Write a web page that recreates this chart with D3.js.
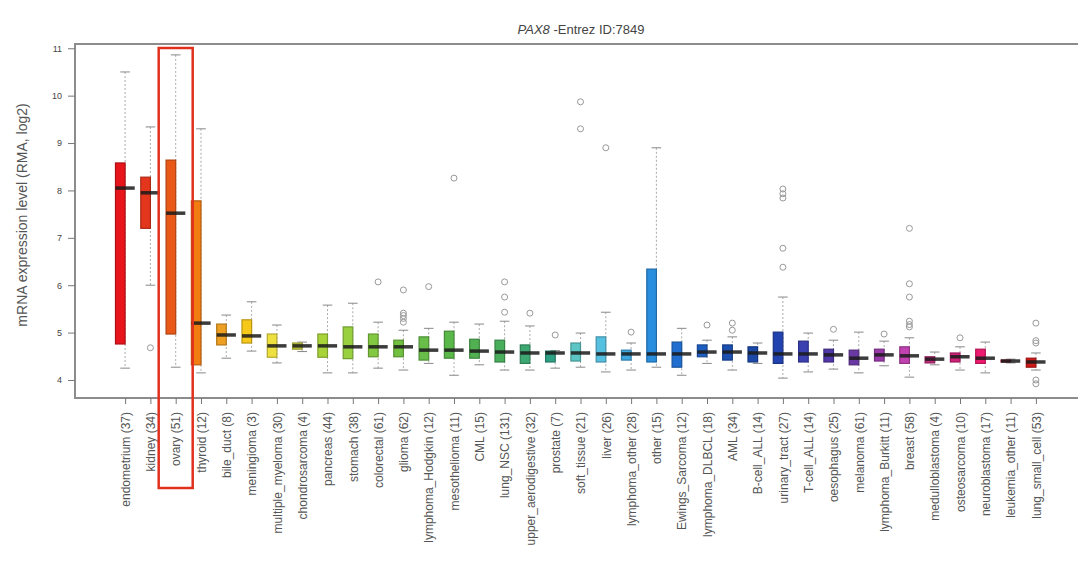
<!DOCTYPE html>
<html>
<head>
<meta charset="utf-8">
<script src="https://cdn.jsdelivr.net/npm/d3@7"></script>
<style>
  body { margin: 0; background: #fff; }
  text { font-family: "Liberation Sans", Arial, sans-serif; }
</style>
</head>
<body>
<div id="visualization"></div>
<script>
const categories = ['endometrium (37)', 'kidney (34)', 'ovary (51)', 'thyroid (12)', 'bile_duct (8)',
  'meningioma (3)', 'multiple_myeloma (30)', 'chondrosarcoma (4)', 'pancreas (44)', 'stomach (38)',
  'colorectal (61)', 'glioma (62)', 'lymphoma_Hodgkin (12)', 'mesothelioma (11)', 'CML (15)',
  'lung_NSC (131)', 'upper_aerodigestive (32)', 'prostate (7)', 'soft_tissue (21)', 'liver (26)',
  'lymphoma_other (28)', 'other (15)', 'Ewings_Sarcoma (12)', 'lymphoma_DLBCL (18)', 'AML (34)',
  'B-cell_ALL (14)', 'urinary_tract (27)', 'T-cell_ALL (14)', 'oesophagus (25)', 'melanoma (61)',
  'lymphoma_Burkitt (11)', 'breast (58)', 'medulloblastoma (4)', 'osteosarcoma (10)',
  'neuroblastoma (17)', 'leukemia_other (11)', 'lung_small_cell (53)'];

const whiskerLow = [4.25, 6.0, 4.27, 4.15, 4.46, 4.61, 4.36, 4.6, 4.15, 4.15,
  4.25, 4.21, 4.35, 4.1, 4.32, 4.21, 4.21, 4.25, 4.27, 4.17,
  4.21, 4.27, 4.1, 4.35, 4.21, 4.35, 4.04, 4.17, 4.23, 4.15,
  4.3, 4.06, 4.32, 4.21, 4.15, 4.36, 4.21];
const q1 = [4.76, 7.2, 4.97, 4.32, 4.74, 4.78, 4.48, 4.65, 4.48, 4.45,
  4.49, 4.49, 4.42, 4.46, 4.46, 4.38, 4.35, 4.38, 4.4, 4.38,
  4.42, 4.38, 4.27, 4.49, 4.42, 4.38, 4.35, 4.38, 4.38, 4.32,
  4.4, 4.35, 4.36, 4.38, 4.35, 4.38, 4.27];
const median = [8.05, 7.95, 7.52, 5.2, 4.95, 4.93, 4.72, 4.72, 4.72, 4.7,
  4.7, 4.7, 4.63, 4.63, 4.61, 4.59, 4.57, 4.57, 4.57, 4.55,
  4.55, 4.55, 4.55, 4.59, 4.59, 4.57, 4.55, 4.55, 4.53, 4.46,
  4.53, 4.51, 4.44, 4.49, 4.46, 4.4, 4.38];
const q3 = [8.58, 8.28, 8.64, 7.78, 5.18, 5.27, 4.97, 4.78, 4.97, 5.12,
  4.97, 4.84, 4.91, 5.03, 4.86, 4.84, 4.74, 4.61, 4.78, 4.91,
  4.63, 6.34, 4.8, 4.74, 4.74, 4.7, 5.01, 4.82, 4.65, 4.63,
  4.65, 4.7, 4.49, 4.57, 4.65, 4.42, 4.46];
const whiskerHigh = [10.5, 9.34, 10.86, 9.3, 5.37, 5.65, 5.16, 4.8, 5.58, 5.62,
  5.22, 5.05, 5.09, 5.22, 5.18, 5.24, 5.14, 4.62, 4.99, 5.43,
  4.78, 8.9, 5.09, 4.84, 4.91, 4.78, 5.75, 4.99, 4.84, 5.01,
  4.82, 4.89, 4.59, 4.7, 4.8, 4.44, 4.57];
const outliers = [[], [4.68], [], [], [], [], [], [], [], [],
  [6.07], [5.9, 5.41, 5.36, 5.3, 5.22], [5.97], [8.26], [],
  [6.07, 5.75, 5.43], [5.41], [4.95], [9.87, 9.3], [8.9],
  [5.01], [], [], [5.16], [5.2, 5.05], [], [8.03, 7.93, 7.84, 6.78, 6.38], [], [5.07], [],
  [4.97], [7.2, 6.03, 5.75, 5.24, 5.17, 5.12], [], [4.89], [], [], [5.2, 4.83, 4.78, 4.0, 3.92]];

const yTicks = [4, 5, 6, 7, 8, 9, 10, 11];

const palette = ['#e8141c', '#e4361c', '#ea5818', '#f07c12', '#eea024', '#f6c81a', '#eee03e', '#c6cc3e',
  '#a8d43a', '#98d040', '#82c840', '#72c040', '#68be48', '#5ab84a', '#50b052', '#48ae5c',
  '#3ea872', '#2ea084', '#5cc6c4', '#56c0e0', '#3ea6e0', '#2a8ede', '#206ed0', '#1e5ec0',
  '#1c50b0', '#1c48a8', '#2242b0', '#3a40b0', '#5038a8', '#6a38a2', '#9a3aaa', '#c042b0',
  '#c02a7a', '#d02078', '#ee1a70', '#c81a3e', '#d01818'];

const width = 1078;
const height = 567;

const svg = d3.select('#visualization').append('svg')
  .attr('width', width)
  .attr('height', height);

const x = d3.scaleLinear().domain([-0.98, 38.98]).range([75, 1086]);
const y = d3.scaleLinear().domain([3.62, 11.09]).range([398, 44]);
const half = 0.38;

// title
const title = svg.append('text')
  .attr('x', 581)
  .attr('y', 34)
  .attr('text-anchor', 'middle')
  .style('font-size', '13px')
  .style('fill', '#444');
title.append('tspan').style('font-style', 'italic').text('PAX8');
title.append('tspan').text(' -Entrez ID:7849');

// frame
svg.append('rect')
  .attr('x', 75)
  .attr('y', 44)
  .attr('width', 1086 - 75)
  .attr('height', 398 - 44)
  .attr('fill', 'none')
  .attr('stroke', '#8c8c8c')
  .attr('stroke-width', 2);

// axes
const yAxis = svg.append('g')
  .attr('transform', 'translate(75,0)')
  .call(d3.axisLeft(y).tickValues(yTicks).tickSize(7).tickPadding(6));
yAxis.select('.domain').remove();
yAxis.selectAll('line').attr('stroke', '#777');
yAxis.selectAll('text').style('font-size', '9px').style('fill', '#444')
  .style('font-family', '"Liberation Sans", Arial, sans-serif');

const xAxis = svg.append('g')
  .attr('transform', 'translate(0,398)')
  .call(d3.axisBottom(x).tickValues(d3.range(1, categories.length + 1))
    .tickSize(6)
    .tickFormat((d) => categories[d - 1]));
xAxis.select('.domain').remove();
xAxis.selectAll('line').attr('stroke', '#777');
xAxis.selectAll('text')
  .attr('transform', 'rotate(-90)')
  .attr('text-anchor', 'end')
  .attr('x', -14)
  .attr('y', 0)
  .attr('dy', '0.35em')
  .style('font-size', '12px')
  .style('fill', '#555')
  .style('font-family', '"Liberation Sans", Arial, sans-serif');

svg.append('text')
  .attr('transform', 'translate(27,215) rotate(-90)')
  .attr('text-anchor', 'middle')
  .style('font-size', '14px')
  .style('fill', '#555')
  .text('mRNA expression level (RMA, log2)');

// boxes
const boxes = svg.append('g').selectAll('g')
  .data(categories)
  .enter()
  .append('g');

boxes.append('line')
  .attr('x1', (d, i) => x(i + 1))
  .attr('x2', (d, i) => x(i + 1))
  .attr('y1', (d, i) => y(whiskerHigh[i]))
  .attr('y2', (d, i) => y(whiskerLow[i]))
  .attr('stroke', '#aaa')
  .attr('stroke-dasharray', '2,2');

boxes.selectAll('.cap')
  .data((d, i) => [[i, whiskerLow[i]], [i, whiskerHigh[i]]])
  .enter()
  .append('line')
  .attr('class', 'cap')
  .attr('x1', (d) => x(d[0] + 1 - half / 2))
  .attr('x2', (d) => x(d[0] + 1 + half / 2))
  .attr('y1', (d) => y(d[1]))
  .attr('y2', (d) => y(d[1]))
  .attr('stroke', '#888')
  .attr('stroke-width', 1);

boxes.append('rect')
  .attr('x', (d, i) => x(i + 1 - half))
  .attr('width', x(half) - x(0))
  .attr('y', (d, i) => y(q3[i]))
  .attr('height', (d, i) => Math.max(1.5, y(q1[i]) - y(q3[i])))
  .attr('fill', (d, i) => palette[i])
  .attr('stroke', (d, i) => d3.color(palette[i]).darker(0.8))
  .attr('stroke-width', 1.2);

boxes.append('line')
  .attr('x1', (d, i) => x(i + 1 - half))
  .attr('x2', (d, i) => x(i + 1 + half))
  .attr('y1', (d, i) => y(median[i]))
  .attr('y2', (d, i) => y(median[i]))
  .attr('stroke', '#1a1a1a')
  .attr('stroke-opacity', 0.85)
  .attr('stroke-width', 3.5);

boxes.selectAll('circle')
  .data((d, i) => outliers[i].map((v) => [i, v]))
  .enter()
  .append('circle')
  .attr('cx', (d) => x(d[0] + 1))
  .attr('cy', (d) => y(d[1]))
  .attr('r', 3)
  .attr('fill', 'none')
  .attr('stroke', '#999')
  .attr('stroke-width', 1);

// highlight around ovary
svg.append('rect')
  .attr('x', x(3) - 17)
  .attr('y', 48)
  .attr('width', 34)
  .attr('height', 440)
  .attr('fill', 'none')
  .attr('stroke', '#e2301f')
  .attr('stroke-width', 2.5);
</script>
</body>
</html>
